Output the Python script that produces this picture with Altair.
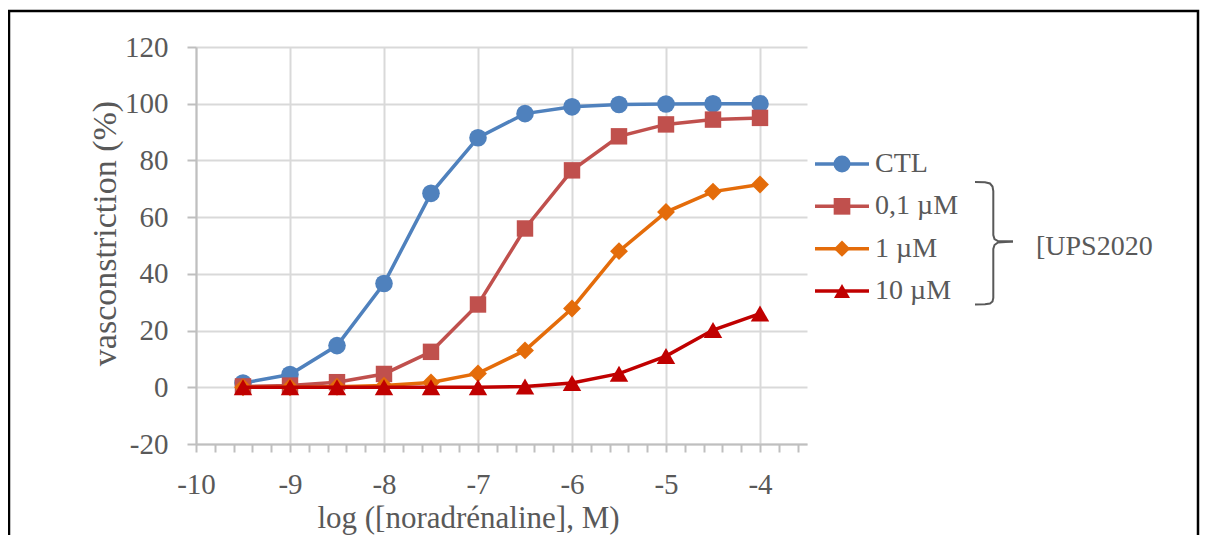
import altair as alt
import pandas as pd

# ---------------- data ----------------
x_vals = [-9.5, -9, -8.5, -8, -7.5, -7, -6.5, -6, -5.5, -5, -4.5, -4]
series_names = ["CTL", "0,1 µM", "1 µM", "10 µM"]
ctl = [1.5, 4.5, 14.7, 36.6, 68.4, 88.0, 96.5, 98.9, 99.7, 99.9, 100.0, 100.0]
ups_01 = [0.3, 0.6, 1.8, 4.7, 12.5, 29.2, 56.0, 76.5, 88.5, 92.7, 94.4, 95.0]
ups_1 = [0.0, 0.0, 0.2, 0.6, 1.7, 4.9, 13.0, 27.8, 48.0, 61.8, 69.0, 71.5]
ups_10 = [0.0, 0.0, 0.0, 0.0, 0.0, 0.0, 0.3, 1.5, 4.8, 11.0, 20.2, 26.0]
series_values = [ctl, ups_01, ups_1, ups_10]

colors = ["#4F81BD", "#C0504D", "#E46C0A", "#C00000"]
shapes = ["circle", "square", "diamond", "triangle-up"]
marker_sizes = [310, 270, 320, 340]
legend_marker_sizes = [289, 256, 210, 300]

y_ticks = [-20, 0, 20, 40, 60, 80, 100, 120]
x_ticks = [round(-10 + 0.2 * i, 1) for i in range(33)]  # minor ticks every 0.2, labels on integers

group_label = "[UPS2020"
x_title = "log ([noradrénaline], M)"
y_title = "vasconstriction (%)"

FONT = "Liberation Serif"
TXT = "#595959"
GRID = "#D9D9D9"
AXC = "#BFBFBF"

W, H = 611, 397

rows = []
for name, vals in zip(series_names, series_values):
    for xv, yv in zip(x_vals, vals):
        rows.append({"series": name, "x": xv, "y": yv})
df = pd.DataFrame(rows)

# ---------------- scales / axes ----------------
color_scale = alt.Scale(domain=series_names, range=colors)
int_test = "abs(datum.value - round(datum.value)) < 0.001"

x_axis = alt.Axis(
    values=x_ticks,
    labelExpr=f"{int_test} ? '' + round(datum.value) : ''",
    tickSize=8, tickColor=AXC, tickWidth=2,
    domainColor=AXC, domainWidth=2,
    grid=True, gridColor=GRID, gridWidth=2,
    gridOpacity={"condition": {"test": int_test, "value": 1}, "value": 0},
    labelFont=FONT, labelFontSize=29, labelColor=TXT, labelPadding=18,
    labelFlush=False, labelOverlap=False,
    title=x_title, titleFont=FONT, titleFontSize=31, titleFontWeight="normal",
    titleColor=TXT, titleX=272, titleY=83, titleBaseline="alphabetic", titleAlign="center",
)
y_axis = alt.Axis(
    values=y_ticks,
    labelExpr="'' + datum.value",
    tickSize=9, tickColor=AXC, tickWidth=2,
    domainColor=AXC, domainWidth=2,
    grid=True, gridColor=GRID, gridWidth=2,
    labelFont=FONT, labelFontSize=29, labelColor=TXT, labelPadding=19,
    labelFlush=False, labelOverlap=False,
    title=y_title, titleFont=FONT, titleFontSize=34, titleFontWeight="normal",
    titleColor=TXT, titleX=-81, titleY=186, titleBaseline="alphabetic", titleAlign="center",
)

x_enc = alt.X("x:Q", scale=alt.Scale(domain=[-10, -3.5], nice=False, zero=False), axis=x_axis)
y_enc = alt.Y("y:Q", scale=alt.Scale(domain=[-20, 120], nice=False, zero=False), axis=y_axis)

base = alt.Chart(df)
layers = []
for name, shp, sz in zip(series_names, shapes, marker_sizes):
    sub = base.transform_filter(alt.datum.series == name)
    layers.append(
        sub.mark_line(strokeWidth=3.5).encode(
            x=x_enc, y=y_enc,
            color=alt.Color("series:N", scale=color_scale, legend=None),
        )
    )
    layers.append(
        sub.mark_point(filled=True, shape=shp, size=sz, opacity=1).encode(
            x=x_enc, y=y_enc,
            color=alt.Color("series:N", scale=color_scale, legend=None),
        )
    )
main = alt.layer(*layers)

# ---------------- legend (own row scale) ----------------
leg_df = pd.DataFrame({"series": series_names})
leg_y = alt.Y("series:N", scale=alt.Scale(type="point", domain=series_names, range=[117, 244], padding=0), axis=None)
leg_color = alt.Color("series:N", scale=color_scale, legend=None)
leg_base = alt.Chart(leg_df)
leg_line = leg_base.mark_rule(strokeWidth=3.5).encode(
    x=alt.value(619), x2=alt.value(673), y=leg_y, color=leg_color
)
leg_pts = leg_base.mark_point(filled=True, opacity=1).encode(
    x=alt.value(646), y=leg_y, color=leg_color,
    shape=alt.Shape("series:N", scale=alt.Scale(domain=series_names, range=shapes), legend=None),
    size=alt.Size("series:N", scale=alt.Scale(domain=series_names, range=legend_marker_sizes), legend=None),
)
leg_txt = leg_base.mark_text(align="left", baseline="middle", font=FONT, fontSize=28, color=TXT).encode(
    x=alt.value(679), y=leg_y, text="series:N"
)
legend_group = alt.layer(leg_line, leg_pts, leg_txt)

# ---------------- decorations (pixel space relative to plot origin) ----------------
px = alt.Scale(domain=[0, W], range=[0, W], nice=False, zero=False)
py = alt.Scale(domain=[0, H], range=[0, H], nice=False, zero=False)

border_df = pd.DataFrame([{"x1": -187, "x2": 1002, "y1": -36, "y2": 520}])
border = alt.Chart(border_df).mark_rect(fillOpacity=0, stroke="black", strokeWidth=2.5).encode(
    x=alt.X("x1:Q", scale=px, axis=None), x2="x2:Q",
    y=alt.Y("y1:Q", scale=py, axis=None), y2="y2:Q",
)

# brace, page coordinates shifted by plot origin (196, 47)
brace_up = [(975, 182), (985, 182.3), (990, 183.5), (992.5, 186.5), (993.3, 191), (993.3, 235),
            (994.5, 239), (998, 241), (1013, 241.5)]
brace_lo = [(1013, 241.5), (998, 242.5), (994.5, 245), (993.3, 249), (993.3, 298),
            (992.5, 301.5), (990, 303.5), (985, 304.3), (975, 304.5)]
brace_rows = []
for part, pts in (("a", brace_up), ("b", brace_lo)):
    for i, (bx, by) in enumerate(pts):
        brace_rows.append({"part": part, "i": i, "bx": bx - 196, "by": by - 47})
brace = alt.Chart(pd.DataFrame(brace_rows)).mark_line(color=TXT, strokeWidth=2).encode(
    x=alt.X("bx:Q", scale=px, axis=None),
    y=alt.Y("by:Q", scale=py, axis=None),
    detail="part:N", order="i:Q",
)
label_df = pd.DataFrame([{"tx": 1036 - 196, "ty": 255 - 47, "t": group_label}])
group_text = alt.Chart(label_df).mark_text(
    align="left", baseline="alphabetic", font=FONT, fontSize=28, color=TXT
).encode(
    x=alt.X("tx:Q", scale=px, axis=None),
    y=alt.Y("ty:Q", scale=py, axis=None),
    text="t:N",
)
deco = alt.layer(border, brace, group_text)

chart = alt.layer(main, legend_group, deco).resolve_scale(x="independent", y="independent").properties(
    width=W, height=H,
    padding={"left": 188, "top": 39, "right": 393, "bottom": 91},
    autosize=alt.AutoSizeParams(type="none"),
).configure_view(stroke=None)

chart.save("out.html", embed_options={"renderer": "svg", "actions": False})
